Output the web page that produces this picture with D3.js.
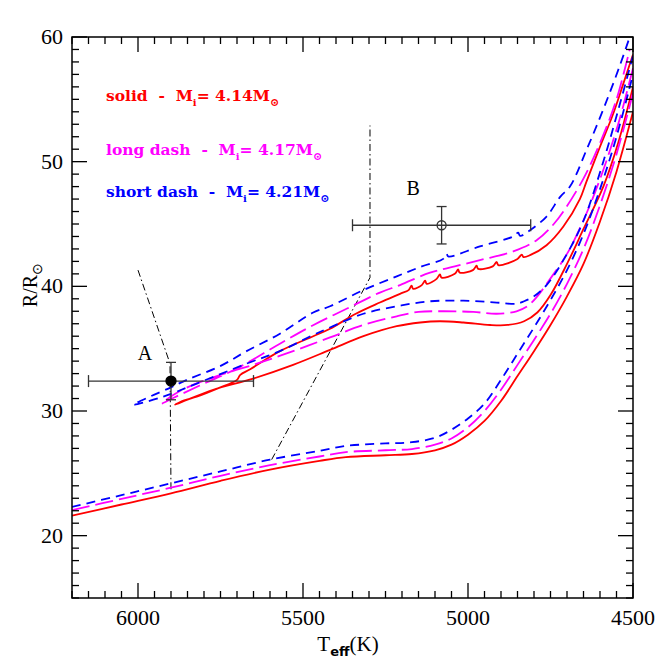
<!DOCTYPE html>
<html>
<head>
<meta charset="utf-8">
<script src="https://cdn.jsdelivr.net/npm/d3@7"></script>
<style>
  body { margin: 0; background: #fff; }
  svg { display: block; }
  .tick-label { font-family: "Liberation Serif", serif; font-size: 22px; fill: #000; }
  .legend { font-family: "DejaVu Serif", serif; font-size: 15.5px; font-weight: bold; white-space: pre; }
</style>
</head>
<body>
<div id="chart"></div>
<script>
// tracks [Teff, R/Rsun]
var redLower = [[6200,21.6],[6050,22.5],[5900,23.4],[5750,24.4],[5600,25.3],[5450,26.0],[5370,26.3],[5250,26.45],[5170,26.55],[5100,26.85],[5050,27.3],[5000,28.1],[4950,29.2],[4900,30.8],[4850,32.8],[4800,34.8],[4750,36.9],[4700,39.2],[4650,41.8],[4600,45.2],[4550,49.2],[4500,54.0]];
var magLower = [[6200,22.05],[6050,22.95],[5900,23.85],[5750,24.8],[5600,25.65],[5450,26.35],[5370,26.7],[5250,26.85],[5170,26.95],[5100,27.3],[5050,27.8],[5000,28.7],[4950,30.0],[4900,31.7],[4850,33.7],[4800,35.7],[4750,37.8],[4700,40.2],[4650,43.0],[4600,46.5],[4550,50.6],[4500,55.5]];
var blueLower = [[6200,22.3],[6050,23.25],[5900,24.2],[5750,25.15],[5600,26.1],[5450,26.8],[5370,27.2],[5250,27.4],[5170,27.5],[5100,27.85],[5050,28.5],[5000,29.4],[4950,30.6],[4900,32.5],[4850,34.6],[4800,36.7],[4750,38.9],[4700,41.3],[4650,44.2],[4600,47.8],[4550,52.0],[4500,57.0]];

var redLoop = [[4500,56.0],[4545,51.5],[4590,48.0],[4650,44.6],[4700,41.8],[4750,39.3],[4790,37.9],[4830,37.2],[4880,36.9],[4933,36.9],[5014,37.1],[5085,37.2],[5145,37.1],[5216,36.8],[5317,36.0],[5418,34.9],[5530,33.7],[5651,32.6],[5772,31.7],[5850,30.9],[5888,30.5],
  [5860,30.85],[5822,31.15],[5760,31.8],[5700,32.5],[5690,32.9],[5660,33.35],[5570,34.8],[5469,36.0],[5418,36.6],[5340,37.8],[5267,38.7],[5206,39.4],
  [5180,39.7],[5171,40.05],[5166,39.8],[5140,40.1],[5130,40.45],[5125,40.2],[5095,40.6],[5085,40.95],[5080,40.7],[5040,41.0],[5030,41.35],[5025,41.1],
  [4985,41.3],[4974,41.65],[4969,41.4],[4925,41.6],[4913,41.95],[4908,41.7],[4850,42.2],[4837,42.55],[4832,42.35],[4812,42.5],
  [4762,43.3],[4711,44.8],[4661,47.0],[4641,48.4],[4600,51.2],[4562,53.7],[4530,56.2],[4500,58.6]];
var magLoop = [[4500,57.5],[4545,53.0],[4600,48.6],[4650,45.3],[4700,42.6],[4751,40.6],[4790,39.2],[4820,38.4],[4853,38.0],[4913,37.8],[4984,37.95],[5085,38.0],[5150,37.95],[5216,37.6],[5317,36.9],[5418,35.9],[5530,34.8],[5640,33.8],[5772,32.7],[5873,31.6],[5928,30.6],
  [5900,30.95],[5873,31.3],[5800,32.2],[5701,33.4],[5570,35.4],[5468,36.9],[5368,38.2],[5267,39.5],[5206,40.1],[5115,41.1],[5040,41.6],[4964,42.1],[4863,42.8],[4792,43.7],[4740,45.0],[4711,46.0],[4651,48.6],[4600,51.5],[4550,55.0],[4510,59.0]];
var blueLoop = [[4500,58.5],[4540,54.6],[4590,50.0],[4651,45.2],[4711,42.1],[4762,40.1],[4800,39.2],[4830,38.8],[4853,38.6],[4913,38.7],[5014,38.85],[5115,38.8],[5216,38.4],[5317,37.8],[5418,36.7],[5469,36.1],[5570,34.8],[5671,33.8],[5822,32.2],[5923,31.15],[6014,30.5],
  [5960,31.2],[5900,31.9],[5852,32.5],[5751,33.6],[5671,34.8],[5570,36.2],[5469,37.9],[5418,38.4],[5317,39.7],[5216,40.8],[5140,41.6],[5075,42.2],[5065,42.6],[5060,42.4],[4964,43.2],[4863,44.0],[4848,44.3],[4842,44.05],[4812,44.5],[4762,45.6],[4720,47.2],[4691,48.0],[4640,51.0],[4590,54.2],[4540,57.7],[4510,60.0]];

// observed stars
var stars = [
  {name: "A", t: 5900, r: 32.4, tErr: 250, rErr: 1.5, filled: true, labelT: 5979, labelR: 34.1},
  {name: "B", t: 5080, r: 44.9, tErr: 270, rErr: 1.5, filled: false, labelT: 5166, labelR: 47.3}
];
// dash-dot guide lines
var guide1 = [[6000,41.3],[5903,33.8],[5900,23.5]];
var guide2 = [[5595,26.1],[5297,40.7],[5297,52.9]];

var legendItems = [
  {pre: "solid  -  M", mass: "= 4.14M", color: "#ff0000", r: 54.9},
  {pre: "long dash  -  M", mass: "= 4.17M", color: "#ff00ff", r: 50.5},
  {pre: "short dash  -  M", mass: "= 4.21M", color: "#0000ff", r: 47.2}
];

var xMajor = [6000, 5500, 5000, 4500];
var yMajor = [20, 30, 40, 50, 60];

var width = 670, height = 670;
var mLeft = 72, mRight = 633, mTop = 37, mBottom = 598;

var svg = d3.select("#chart").append("svg")
  .attr("width", width).attr("height", height);

var x = d3.scaleLinear().domain([6200, 4500]).range([mLeft, mRight]);
var y = d3.scaleLinear().domain([15, 60]).range([mBottom, mTop]);

svg.append("clipPath").attr("id", "clip")
  .append("rect").attr("x", mLeft).attr("y", mTop).attr("width", mRight - mLeft).attr("height", mBottom - mTop);

var plot = svg.append("g").attr("clip-path", "url(#clip)");

var line = d3.line()
  .x(function(d) { return x(d[0]); })
  .y(function(d) { return y(d[1]); })
  .curve(d3.curveCatmullRom.alpha(0.5));
var straight = d3.line()
  .x(function(d) { return x(d[0]); })
  .y(function(d) { return y(d[1]); });

var tracks = [
  {data: redLower, color: "#ff0000", dash: null},
  {data: redLoop, color: "#ff0000", dash: null},
  {data: magLower, color: "#ff00ff", dash: "18,6"},
  {data: magLoop, color: "#ff00ff", dash: "18,6"},
  {data: blueLower, color: "#0000ff", dash: "9,6"},
  {data: blueLoop, color: "#0000ff", dash: "9,6"}
];

// guide lines
[guide1, guide2].forEach(function(g) {
  plot.append("path").attr("d", straight(g))
    .attr("fill", "none").attr("stroke", "#000").attr("stroke-width", 1)
    .attr("stroke-dasharray", "7,3,1.5,3");
});

tracks.forEach(function(t) {
  plot.append("path").attr("d", line(t.data))
    .attr("fill", "none").attr("stroke", t.color).attr("stroke-width", 1.8)
    .attr("stroke-dasharray", t.dash);
});

// error bars
stars.forEach(function(s) {
  var g = plot.append("g").attr("stroke", "#333").attr("stroke-width", 1.3).attr("fill", "none");
  g.append("line").attr("x1", x(s.t + s.tErr)).attr("x2", x(s.t - s.tErr)).attr("y1", y(s.r)).attr("y2", y(s.r));
  g.append("line").attr("x1", x(s.t)).attr("x2", x(s.t)).attr("y1", y(s.r - s.rErr)).attr("y2", y(s.r + s.rErr));
  [s.t + s.tErr, s.t - s.tErr].forEach(function(v) {
    g.append("line").attr("x1", x(v)).attr("x2", x(v)).attr("y1", y(s.r) - 6).attr("y2", y(s.r) + 6);
  });
  [s.r - s.rErr, s.r + s.rErr].forEach(function(v) {
    g.append("line").attr("x1", x(s.t) - 5).attr("x2", x(s.t) + 5).attr("y1", y(v)).attr("y2", y(v));
  });
  g.append("circle").attr("cx", x(s.t)).attr("cy", y(s.r)).attr("r", s.filled ? 5 : 4.5)
    .attr("fill", s.filled ? "#000" : "none").attr("stroke", s.filled ? "#000" : "#333");
  svg.append("text").attr("x", x(s.labelT)).attr("y", y(s.labelR))
    .attr("text-anchor", "middle")
    .style("font-family", "Liberation Serif, serif").style("font-size", "20px")
    .text(s.name);
});

// frame and ticks
svg.append("rect").attr("x", mLeft).attr("y", mTop).attr("width", mRight - mLeft).attr("height", mBottom - mTop)
  .attr("fill", "none").attr("stroke", "#000").attr("stroke-width", 1.5);

var axes = svg.append("g").attr("stroke", "#000").attr("stroke-width", 1.3);
d3.range(6200, 4499, -50).forEach(function(v) {
  var len = (v % 500 === 0) ? 15 : 7;
  axes.append("line").attr("x1", x(v)).attr("x2", x(v)).attr("y1", mBottom).attr("y2", mBottom - len);
  axes.append("line").attr("x1", x(v)).attr("x2", x(v)).attr("y1", mTop).attr("y2", mTop + len);
});
d3.range(15, 60.5, 1).forEach(function(v) {
  var len = (v % 10 === 0) ? 15 : 7;
  axes.append("line").attr("y1", y(v)).attr("y2", y(v)).attr("x1", mLeft).attr("x2", mLeft + len);
  axes.append("line").attr("y1", y(v)).attr("y2", y(v)).attr("x1", mRight).attr("x2", mRight - len);
});

svg.selectAll(".xl").data(xMajor).enter().append("text")
  .attr("class", "tick-label")
  .attr("x", function(d) { return x(d); }).attr("y", mBottom + 27)
  .attr("text-anchor", "middle").text(function(d) { return d; });
svg.selectAll(".yl").data(yMajor).enter().append("text")
  .attr("class", "tick-label")
  .attr("x", mLeft - 9).attr("y", function(d) { return y(d) + 7; })
  .attr("text-anchor", "end").text(function(d) { return d; });

// axis titles
var xt = svg.append("text").attr("x", 348).attr("y", 651).attr("text-anchor", "middle")
  .style("font-family", "Liberation Serif, serif").style("font-size", "21px");
xt.append("tspan").text("T");
xt.append("tspan").attr("dy", 5).style("font-size", "13px").style("font-family", "DejaVu Sans, sans-serif").style("font-weight", "bold").text("eff");
xt.append("tspan").attr("dy", -5).text("(K)");

var yt = svg.append("text").attr("transform", "translate(37,285) rotate(-90)").attr("text-anchor", "middle")
  .style("font-family", "Liberation Serif, serif").style("font-size", "20px");
yt.append("tspan").text("R/R");
yt.append("tspan").attr("dy", 5).style("font-size", "14px").text("\u2299");

// legend
legendItems.forEach(function(d) {
  var t = svg.append("text").attr("class", "legend").attr("x", 106).attr("y", y(d.r)).attr("fill", d.color);
  t.append("tspan").text(d.pre);
  t.append("tspan").attr("dy", 5).style("font-size", "10px").text("i");
  t.append("tspan").attr("dy", -5).text(d.mass);
  t.append("tspan").attr("dy", 5).style("font-size", "11px").text("\u2299");
});
</script>
</body>
</html>
